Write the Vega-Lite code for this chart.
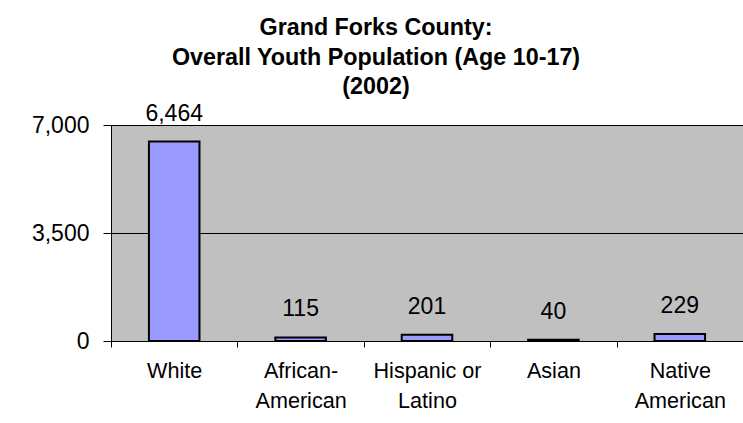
{
  "$schema": "https://vega.github.io/schema/vega-lite/v6.json",
  "width": 632,
  "height": 216,
  "autosize": "none",
  "padding": {"left": 111, "top": 125, "right": 0, "bottom": 82},
  "background": "white",
  "title": {
    "text": ["Grand Forks County:", "Overall Youth Population (Age 10-17)", "(2002)"],
    "font": "Liberation Sans",
    "fontSize": 23.3,
    "fontWeight": "bold",
    "color": "black",
    "anchor": "middle",
    "dx": -51,
    "lineHeight": 29.5,
    "offset": 3
  },
  "data": {
    "values": [
      {"race": "White", "n": 6464},
      {"race": "African-American", "n": 115},
      {"race": "Hispanic or Latino", "n": 201},
      {"race": "Asian", "n": 40},
      {"race": "Native American", "n": 229}
    ]
  },
  "encoding": {
    "x": {
      "field": "race",
      "type": "nominal",
      "sort": null,
      "scale": {"paddingInner": 0, "paddingOuter": 0},
      "axis": {
        "title": null,
        "labelAngle": 0,
        "tickBand": "extent",
        "tickSize": 6,
        "tickColor": "black",
        "domainColor": "black",
        "labelFont": "Liberation Sans",
        "labelFontSize": 21.6,
        "labelColor": "black",
        "labelPadding": 13,
        "labelLineHeight": 30,
        "labelBaseline": "top",
        "labelExpr": "datum.label == 'African-American' ? ['African-', 'American'] : datum.label == 'Hispanic or Latino' ? ['Hispanic or', 'Latino'] : datum.label == 'Native American' ? ['Native', 'American'] : datum.label"
      }
    },
    "y": {
      "field": "n",
      "type": "quantitative",
      "scale": {"domain": [0, 7000], "nice": false},
      "axis": {
        "title": null,
        "values": [0, 3500, 7000],
        "format": ",d",
        "grid": true,
        "gridColor": "black",
        "gridOpacity": 1,
        "gridWidth": 1,
        "domainColor": "black",
        "tickColor": "black",
        "tickSize": 8,
        "labelPadding": 14,
        "labelFont": "Liberation Sans",
        "labelFontSize": 23,
        "labelColor": "black"
      }
    }
  },
  "layer": [
    {
      "mark": {"type": "bar", "width": {"band": 0.4}, "fill": "#9999FF", "stroke": "black", "strokeWidth": 2}
    },
    {
      "mark": {"type": "text", "baseline": "alphabetic", "dy": -21, "font": "Liberation Sans", "fontSize": 23, "color": "black"},
      "encoding": {"text": {"field": "n", "type": "quantitative", "format": ",d"}}
    }
  ],
  "config": {
    "view": {"fill": "#C0C0C0", "stroke": null}
  }
}
